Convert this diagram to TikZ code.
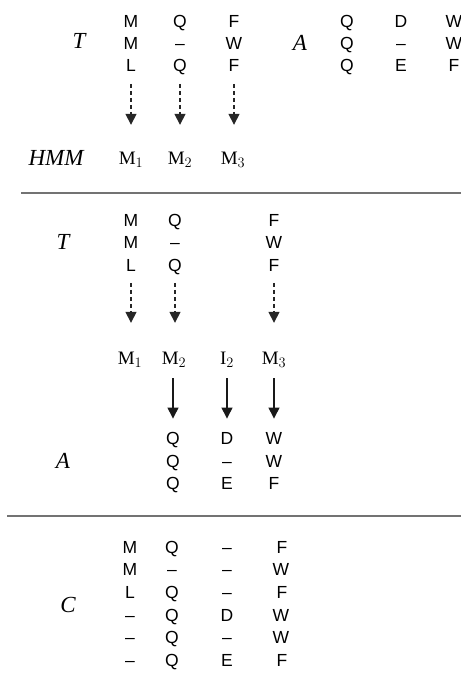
\documentclass[tikz,border=0pt]{standalone}
\usepackage{fontspec}
\setmainfont{Liberation Serif}
\newfontfamily\lettersf{Liberation Sans}
\usetikzlibrary{arrows.meta}
\begin{document}
\begin{tikzpicture}[x=1pt,y=-1pt,
  res/.style={inner sep=0pt,text height=12.5pt,text depth=0pt,font=\lettersf\fontsize{17.5}{19}\selectfont},
  lab/.style={inner sep=0pt,font=\itshape\fontsize{23}{25}\selectfont},
  st/.style={inner sep=0pt,text height=12pt,text depth=0pt,font=\fontsize{19}{21}\selectfont},
  dasharrow/.style={draw=black!85,line width=1.5pt,dash pattern=on 4pt off 3pt,-{Triangle[width=11pt,length=11pt]}},
  solarrow/.style={draw=black!90,line width=1.3pt,-{Triangle[width=11pt,length=11pt]}},
  sep/.style={draw=black!55,line width=1.5pt}]
\useasboundingbox (0,0) rectangle (461,673);
% ---------- section 1 ----------
\node[lab] (T1) at (79,41) {T};
\node[res] (a11) at (131,21) {M};
\node[res] (a12) at (131,43) {M};
\node[res] (a13) at (131,65) {L};
\node[res] (a21) at (180,21) {Q};
\node[res] (a22) at (180,43) {–};
\node[res] (a23) at (180,65) {Q};
\node[res] (a31) at (234,21) {F};
\node[res] (a32) at (234,43) {W};
\node[res] (a33) at (234,65) {F};
\node[lab] (A1) at (300,43) {A};
\node[res] (b11) at (347,21) {Q};
\node[res] (b12) at (347,43) {Q};
\node[res] (b13) at (347,65) {Q};
\node[res] (b21) at (401,21) {D};
\node[res] (b22) at (401,43) {–};
\node[res] (b23) at (401,65) {E};
\node[res] (b31) at (454,21) {W};
\node[res] (b32) at (454,43) {W};
\node[res] (b33) at (454,65) {F};
\node[lab] (HMM) at (56,158) {HMM};
\node[st] (h1) at (131,158) {M$_1$};
\node[st] (h2) at (180,158) {M$_2$};
\node[st] (h3) at (233,158) {M$_3$};
\draw[dasharrow,shorten <=12.5pt,shorten >=27pt] (a13.south -| h1) -- (h1.north);
\draw[dasharrow,shorten <=12.5pt,shorten >=27pt] (a23.south) -- (a23.south |- h2.north);
\draw[dasharrow,shorten <=12.5pt,shorten >=27pt] (a33.south) -- (a33.south |- h3.north);
\coordinate (l1a) at (21,193);
\coordinate (l1b) at (461,193);
\draw[sep] (l1a) -- (l1b);
% ---------- section 2 ----------
\node[lab] (T2) at (63,242) {T};
\node[res] (c11) at (131,220) {M};
\node[res] (c12) at (131,242) {M};
\node[res] (c13) at (131,265) {L};
\node[res] (c21) at (175,220) {Q};
\node[res] (c22) at (175,242) {–};
\node[res] (c23) at (175,265) {Q};
\node[res] (c31) at (274,220) {F};
\node[res] (c32) at (274,242) {W};
\node[res] (c33) at (274,265) {F};
\node[st] (m1) at (130,358) {M$_1$};
\node[st] (m2) at (174,358) {M$_2$};
\node[st] (i2) at (227,358) {I$_2$};
\node[st] (m3) at (274,358) {M$_3$};
\draw[dasharrow,shorten <=11.5pt,shorten >=29pt] (c13.south) -- (c13.south |- m1.north);
\draw[dasharrow,shorten <=11.5pt,shorten >=29pt] (c23.south) -- (c23.south |- m2.north);
\draw[dasharrow,shorten <=11.5pt,shorten >=29pt] (c33.south) -- (c33.south |- m3.north);
\node[lab] (A2) at (63,461) {A};
\node[res] (d11) at (173,438) {Q};
\node[res] (d12) at (173,461) {Q};
\node[res] (d13) at (173,483) {Q};
\node[res] (d21) at (227,438) {D};
\node[res] (d22) at (227,461) {–};
\node[res] (d23) at (227,483) {E};
\node[res] (d31) at (274,438) {W};
\node[res] (d32) at (274,461) {W};
\node[res] (d33) at (274,483) {F};
\draw[solarrow,shorten <=14pt,shorten >=13pt] (m2.south -| d11) -- (d11.north);
\draw[solarrow,shorten <=14pt,shorten >=13pt] (i2.south) -- (d21.north);
\draw[solarrow,shorten <=14pt,shorten >=13pt] (m3.south) -- (d31.north);
\coordinate (l2a) at (7,516);
\coordinate (l2b) at (461,516);
\draw[sep] (l2a) -- (l2b);
% ---------- section 3 ----------
\node[lab] (C) at (68,605) {C};
\node[res] (e11) at (130,547) {M};
\node[res] (e12) at (130,569.6) {M};
\node[res] (e13) at (130,592.2) {L};
\node[res] (e14) at (130,614.8) {–};
\node[res] (e15) at (130,637.4) {–};
\node[res] (e16) at (130,660) {–};
\node[res] (e21) at (172,547) {Q};
\node[res] (e22) at (172,569.6) {–};
\node[res] (e23) at (172,592.2) {Q};
\node[res] (e24) at (172,614.8) {Q};
\node[res] (e25) at (172,637.4) {Q};
\node[res] (e26) at (172,660) {Q};
\node[res] (e31) at (227,547) {–};
\node[res] (e32) at (227,569.6) {–};
\node[res] (e33) at (227,592.2) {–};
\node[res] (e34) at (227,614.8) {D};
\node[res] (e35) at (227,637.4) {–};
\node[res] (e36) at (227,660) {E};
\node[res] (e41) at (282,547) {F};
\node[res] (e42) at (281,569.6) {W};
\node[res] (e43) at (282,592.2) {F};
\node[res] (e44) at (281,614.8) {W};
\node[res] (e45) at (281,637.4) {W};
\node[res] (e46) at (282,660) {F};
\end{tikzpicture}
\end{document}
